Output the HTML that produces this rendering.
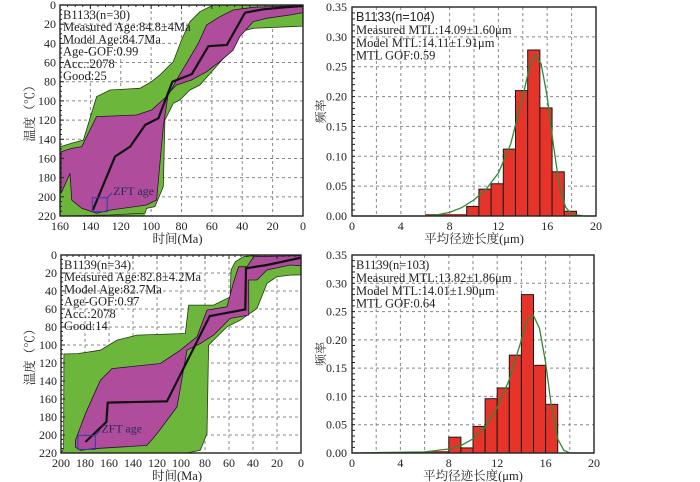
<!DOCTYPE html>
<html><head><meta charset="utf-8"><style>
html,body{margin:0;padding:0;background:#fff;}
svg{display:block;font-family:"Liberation Serif","Noto Serif CJK SC",serif;}
</style></head><body>
<svg id="fig" width="700" height="482" viewBox="0 0 700 482" xmlns="http://www.w3.org/2000/svg"></svg>
<script>
// ---- Panel A (B1133 t-T) data: [Ma, °C]
const a_best = [[138.4,214],[123.7,158],[113.8,147.6],[103.9,125],[95.2,118],[86,80],[73.2,72],[62.3,43],[50.2,41.7],[38.2,8],[26.1,4.5],[11.8,2.4],[0,1]];
const a_greenTop = [[160,147.7],[152.3,144.2],[144.6,140.8],[135.9,95.6],[127.1,88.6],[107.4,86.9],[99.7,79.9],[94.2,73],[85.4,59.1],[80,36.5],[74.5,17.4],[67.9,7],[59.1,0],[0,0]];
const a_greenBot = [[0,22],[8.7,22.6],[32.8,24.3],[41.6,27.8],[46,40],[50.4,52],[59.1,67.8],[67.9,83.4],[74.5,88.6],[81.1,99],[85.4,102.5],[90.9,120],[92,189.4],[97.5,210.3],[103,212],[104,217],[127.1,219],[160,220]];
const a_magTop = [[159.3,153],[152.3,149.5],[145.7,147.7],[135.9,116.4],[109.6,114.7],[99.7,109.5],[88.7,93.8],[83.2,78.2],[76.7,60.8],[69,40],[63.5,20.9],[54.7,12.2],[46,5.2],[32.8,2.4],[8.7,1],[0,1]];
const a_magBot = [[0,8],[8.7,10.4],[24,13.9],[32.8,17.4],[41.6,33],[46,47],[54.7,59],[63.5,69.5],[73.4,78.2],[83.2,83.4],[88.7,92],[92,127],[96.4,203.3],[103,208.5],[127.1,213.8],[135.9,217.2],[145.7,212],[152.3,203.3],[153.4,175.5],[159.3,196.4]];
const a_zft = [138.7,128.9,201,215.5];
const a_text = ["B1133(n=30)","Measured Age:84.8±4Ma","Model Age:84.7Ma","Age-GOF:0.99","Acc.:2078","Good:25"];
// ---- Panel B (B1133 histogram)
const b_binStart = [9.4,10.4,11.4,12.4,13.4,14.4,15.4,16.4,17.4];
const b_freq = [0.016,0.045,0.054,0.112,0.21,0.278,0.181,0.074,0.008];
const b_curveX = [0,6,7,8,9,10,11,12,13,14,14.5,15,15.5,16,16.5,17,17.5,18,19,20];
const b_curveY = [0,0,0.002,0.006,0.014,0.027,0.045,0.072,0.12,0.2,0.245,0.27,0.255,0.2,0.12,0.05,0.015,0.003,0,0];
const b_text = ["Measured MTL:14.09±1.60μm","Model MTL:14.11±1.91μm","MTL GOF:0.59"];
// ---- Panel C (B1139 t-T)
const c_best = [[179.7,207.8],[162.2,185.5],[161.1,164],[111.7,162.5],[76.1,67.9],[46.4,60.5],[45.8,14.8],[28.3,11.1],[8.9,5.6],[0,3]];
const c_greenTop = [[200,220],[197.8,215],[197.6,110],[186.1,109.5],[167.2,105.8],[153.3,94.6],[136.7,89],[96.4,87.2],[93.6,55.7],[72.8,55.7],[58.9,46.4],[58.3,16.7],[54.7,7.4],[47.8,1.9],[33.9,0],[0,0]];
const c_greenBot = [[0,22],[8.9,22.3],[20,24.1],[28.3,31.5],[36.7,59.4],[50.6,72.4],[61.7,79.8],[72.8,94.6],[77,100.2],[78.3,198.5],[83.9,217],[95,220],[200,220]];
const c_magTop = [[188,206],[179.7,176.3],[167.2,139.1],[157.5,126.2],[117.2,120.6],[100.6,105.8],[86.7,90.9],[78.3,61.2],[61.7,57.5],[56.1,29.7],[52,13],[45,13],[39.4,1.9],[8.9,1],[0,1]];
const c_magBot = [[0,12],[8.9,11.1],[28.3,16.7],[36.7,27.8],[43.6,27.8],[43.6,66.8],[58.9,70.5],[72.8,89],[83.9,98.3],[95,105.8],[103.3,168.8],[120,198.5],[128.3,211.5],[172.8,215.2],[183.9,217],[188,213.4]];
const c_zft = [185.8,171.4,200.4,216];
const c_text = ["B1139(n=34)","Measured Age:82.8±4.2Ma","Model Age:82.7Ma","Age-GOF:0.97","Acc.:2078","Good:14"];
// ---- Panel D (B1139 histogram)
const d_binStart = [8,9,10,11,12,13,14,15,16];
const d_freq = [0.028,0.009,0.047,0.096,0.115,0.173,0.28,0.155,0.086];
const d_curveX = [0,6,8,9,10,11,12,13,14,14.5,15,15.5,16,16.5,17,17.5,18,20];
const d_curveY = [0,0.002,0.007,0.013,0.025,0.045,0.08,0.13,0.2,0.235,0.243,0.22,0.16,0.08,0.025,0.005,0,0];
const d_text = ["Measured MTL:13.82±1.86μm","Model MTL:14.01±1.90μm","MTL GOF:0.64"];
const tTicks = [0,20,40,60,80,100,120,140,160,180,200,220];
const fTicks = [0,0.05,0.10,0.15,0.20,0.25,0.30,0.35];
const lTicks = [0,4,8,12,16,20];

const NS="http://www.w3.org/2000/svg";
const svg=document.getElementById('fig');
function mk(tag,attrs,parent){const e=document.createElementNS(NS,tag);for(const k in attrs)e.setAttribute(k,attrs[k]);(parent||svg).appendChild(e);return e;}
function txt(s,x,y,attrs,parent){const t=mk('text',Object.assign({x:x,y:y,'font-size':12,fill:'#222'},attrs),parent);t.textContent=s;return t;}
function scale(d0,d1,p0,p1){return v=>p0+(v-d0)/(d1-d0)*(p1-p0);}

function ttPanel(name,maxMa,px0,px1,py0,py1,best,gT,gB,mT,mB,zft,lines,xTicks,baseTo){
  const g=mk('g',{});
  
  
  const X=scale(maxMa,0,px0,px1), Y=scale(0,220,py0,py1);
  const pts=a=>a.map(p=>X(p[0]).toFixed(1)+','+Y(p[1]).toFixed(1)).join(' ');
  mk('rect',{x:px0,y:py0,width:px1-px0,height:py1-py0,fill:'#fff'},g);
  const gr=mk('g',{stroke:'#888','stroke-dasharray':'3,3','stroke-width':1},g);
  
  xTicks.forEach(v=>{if(v>0&&v<maxMa)mk('line',{x1:X(v),x2:X(v),y1:py0,y2:py1},gr);});
  tTicks.forEach(v=>{if(v>0&&v<220)mk('line',{x1:px0,x2:px1,y1:Y(v),y2:Y(v)},gr);});
  if(baseTo!==undefined){mk('rect',{x:px0,y:Y(195),width:X(baseTo)-px0,height:py1-Y(195),fill:'#6db63c'},g);}
  const ge=mk('polygon',{points:pts(gT.concat(gB)),fill:'#6db63c',stroke:'#1f3a10','stroke-width':0.8},g);
  
  const me=mk('polygon',{points:pts(mT.concat(mB)),fill:'#b04c9c',stroke:'#2a1030','stroke-width':0.8},g);
  
  const bl=mk('polyline',{points:pts(best),fill:'none',stroke:'#111','stroke-width':2.2},g);
  
  const zb=mk('rect',{x:X(zft[0]),y:Y(zft[2]),width:X(zft[1])-X(zft[0]),height:Y(zft[3])-Y(zft[2]),fill:'none',stroke:'#3a3aa8','stroke-width':1},g);
  
  mk('line',{x1:X(zft[1]),y1:Y(zft[2]),x2:X(zft[1])+5,y2:Y(zft[2])-5,stroke:'#3a3aa8'},g);
  const zl=txt('ZFT age',X(zft[1])+6,Y(zft[2])-3,{'font-size':12,fill:'#2a2a55'},g);
  
  mk('rect',{x:px0,y:py0,width:px1-px0,height:py1-py0,fill:'none',stroke:'#222','stroke-width':1.4},g);
  for(let v=0;v<=220;v+=5){mk('line',{x1:px0,x2:px0+(v%20?2:4),y1:Y(v),y2:Y(v),stroke:'#222'},g);}
  for(let v=0;v<=maxMa;v+=5){mk('line',{x1:X(v),x2:X(v),y1:py0,y2:py0+(v%20?2:4),stroke:'#222'},g);}
  tTicks.forEach(v=>{const t=txt(String(v),px0-4,Y(v)+4,{'text-anchor':'end'},g);});
  xTicks.forEach(v=>{const t=txt(String(v),X(v),py1+14,{'text-anchor':'middle'},g);});
  lines.forEach((s,i)=>{const t=txt(s,px0+3,py0+14+i*12.2,{'font-size':12.5},g);});
  const xt=txt('时间(Ma)',(px0+px1)/2-4,py1+27,{'text-anchor':'middle','font-size':12.5},g);
  
  const yt=txt('温度（℃）',0,0,{'text-anchor':'middle','font-size':12.5,transform:'translate(34,'+((py0+py1)/2)+') rotate(-90)'},g);
  
}

function histPanel(name,px0,px1,py0,py1,bins,freq,cx,cy,title,lines,titleFont){
  const g=mk('g',{});
  
  
  const X=scale(0,20,px0,px1), Y=scale(0,0.35,py1,py0);
  const gr=mk('g',{stroke:'#888','stroke-dasharray':'3,3','stroke-width':1},g);
  
  for(let v=2;v<20;v+=2)mk('line',{x1:X(v),x2:X(v),y1:py0,y2:py1},gr);
  fTicks.forEach(v=>{if(v>0&&v<0.35)mk('line',{x1:px0,x2:px1,y1:Y(v),y2:Y(v)},gr);});
  mk('line',{x1:X(6),x2:X(bins[0]),y1:Y(0)-1,y2:Y(0)-1,stroke:'#c0392b','stroke-width':2},g);
  bins.forEach((b,i)=>{
    const r=mk('rect',{x:X(b),y:Y(freq[i]),width:X(b+1)-X(b),height:Y(0)-Y(freq[i]),fill:'#e6342a',stroke:'#1a1a1a','stroke-width':1},g);
    
    
  });
  const c=mk('polyline',{points:cx.map((x,i)=>X(x).toFixed(1)+','+Y(cy[i]).toFixed(1)).join(' '),fill:'none',stroke:'#2f8a34','stroke-width':1.3},g);
  
  mk('rect',{x:px0,y:py0,width:px1-px0,height:py1-py0,fill:'none',stroke:'#222','stroke-width':1.4},g);
  for(let v=0;v<=0.35001;v+=0.01){mk('line',{x1:px0,x2:px0+3,y1:Y(v),y2:Y(v),stroke:'#222'},g);}
  fTicks.forEach(v=>{const t=txt(v.toFixed(2),px0-5,Y(v)+4,{'text-anchor':'end'},g);});
  lTicks.forEach(v=>{const t=txt(String(v),X(v),py1+14,{'text-anchor':'middle'},g);});
  const tt=txt(title,px0+4,py0+14,{'font-size':12.5,'font-family':titleFont},g);
  
  lines.forEach((s,i)=>{const t=txt(s,px0+4,py0+27+i*12.8,{'font-size':12.5},g);});
  const xt=txt('平均径迹长度(μm)',(px0+px1)/2,py1+27,{'text-anchor':'middle','font-size':12.5},g);
  
  const yt=txt('频率',0,0,{'text-anchor':'middle','font-size':12,transform:'translate(325,'+((py0+py1)/2)+') rotate(-90)'},g);
  
}

ttPanel('b1133-tt-panel',160,60,303,5,216,a_best,a_greenTop,a_greenBot,a_magTop,a_magBot,a_zft,a_text,[160,140,120,100,80,60,40,20,0],104);
histPanel('b1133-histogram',352,596,7,216,b_binStart,b_freq,b_curveX,b_curveY,'B1133(n=104)',b_text,'"Liberation Sans",sans-serif');
ttPanel('b1139-tt-panel',200,61,301,255,453,c_best,c_greenTop,c_greenBot,c_magTop,c_magBot,c_zft,c_text,[200,180,160,140,120,100,80,60,40,20,0]);
histPanel('b1139-histogram',352,594,255,453,d_binStart,d_freq,d_curveX,d_curveY,'B1139(n=103)',d_text,'"Liberation Serif",serif');
</script>
</body></html>
